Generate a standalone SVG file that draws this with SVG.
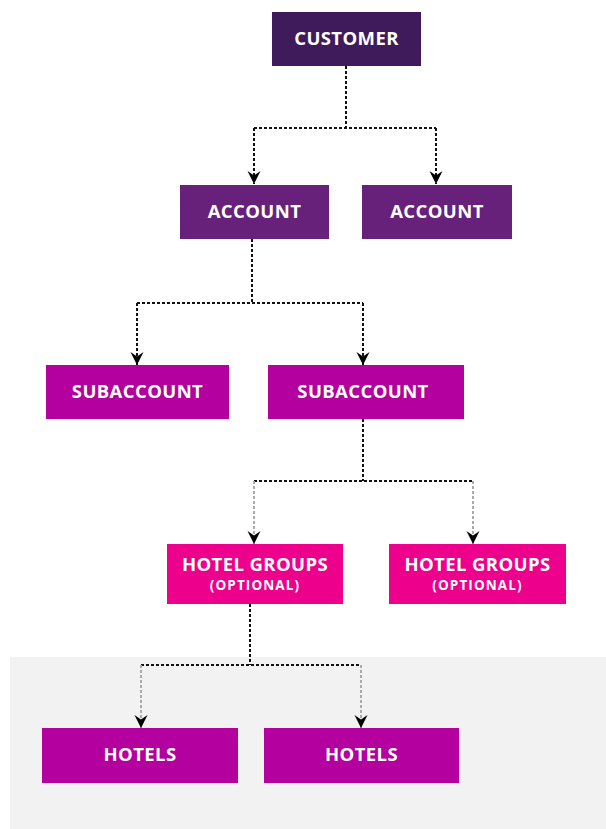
<svg xmlns="http://www.w3.org/2000/svg" width="606" height="829" viewBox="0 0 606 829">
<defs>
<marker id="arr" viewBox="0 0 10 10" refX="10" refY="5" markerWidth="13" markerHeight="14" markerUnits="userSpaceOnUse" orient="auto">
<path d="M0,0 L3.5,5 L0,10 L10,5 Z" fill="#000"/>
</marker>
</defs>
<style>
.lbl{font-family:"Open Sans","Noto Sans",sans-serif;font-weight:bold;font-size:18.5px;letter-spacing:0.4px;fill:#fff;text-anchor:middle;dominant-baseline:central}
.sm{font-size:13.5px;letter-spacing:1.1px}
.dk{fill:none;stroke:#111;stroke-width:2;stroke-dasharray:3 2}
.lt{fill:none;stroke:#aaa;stroke-width:2;stroke-dasharray:3 2}
</style>
<rect x="0" y="0" width="606" height="829" fill="#fff"/>
<rect x="10" y="657" width="596" height="172" fill="#f2f2f2"/>
<g id="connectors">
<path class="dk" d="M346,66 V128"/>
<path class="dk" d="M254,128 H436"/>
<path class="dk" d="M254,128 V184" marker-end="url(#arr)"/>
<path class="dk" d="M436,128 V184" marker-end="url(#arr)"/>
<path class="dk" d="M252,239 V303"/>
<path class="dk" d="M137,303 H363"/>
<path class="dk" d="M137,303 V365" marker-end="url(#arr)"/>
<path class="dk" d="M363,303 V365" marker-end="url(#arr)"/>
<path class="dk" d="M363,419 V481"/>
<path class="dk" d="M254,481 H473"/>
<path class="lt" d="M254,481 V544" marker-end="url(#arr)"/>
<path class="lt" d="M473,481 V544" marker-end="url(#arr)"/>
<path class="dk" d="M250,604 V665"/>
<path class="dk" d="M141,665 H361"/>
<path class="lt" d="M141,665 V728" marker-end="url(#arr)"/>
<path class="lt" d="M361,665 V728" marker-end="url(#arr)"/>
</g>
<g id="customer"><rect x="272" y="12" width="149" height="54" fill="#401b5b"/><text class="lbl" x="346.5" y="37.5">CUSTOMER</text></g>
<g id="account1"><rect x="180" y="185" width="149" height="54" fill="#68217a"/><text class="lbl" x="254.5" y="210.5">ACCOUNT</text></g>
<g id="account2"><rect x="362" y="185" width="150" height="54" fill="#68217a"/><text class="lbl" x="437" y="210.5">ACCOUNT</text></g>
<g id="subaccount1"><rect x="46" y="365" width="183" height="54" fill="#b4009e"/><text class="lbl" x="137.5" y="390.5">SUBACCOUNT</text></g>
<g id="subaccount2"><rect x="268" y="365" width="196" height="54" fill="#b4009e"/><text class="lbl" x="363" y="390.5">SUBACCOUNT</text></g>
<g id="hotelgroups1"><rect x="167" y="544" width="176" height="60" fill="#ec008c"/><text class="lbl" x="255" y="563">HOTEL GROUPS</text><text class="lbl sm" x="255" y="585">(OPTIONAL)</text></g>
<g id="hotelgroups2"><rect x="389" y="544" width="177" height="60" fill="#ec008c"/><text class="lbl" x="477.5" y="563">HOTEL GROUPS</text><text class="lbl sm" x="477.5" y="585">(OPTIONAL)</text></g>
<g id="hotels1"><rect x="42" y="728" width="196" height="55" fill="#b4009e"/><text class="lbl" x="140" y="753.5">HOTELS</text></g>
<g id="hotels2"><rect x="264" y="728" width="195" height="55" fill="#b4009e"/><text class="lbl" x="361.5" y="753.5">HOTELS</text></g>
</svg>
